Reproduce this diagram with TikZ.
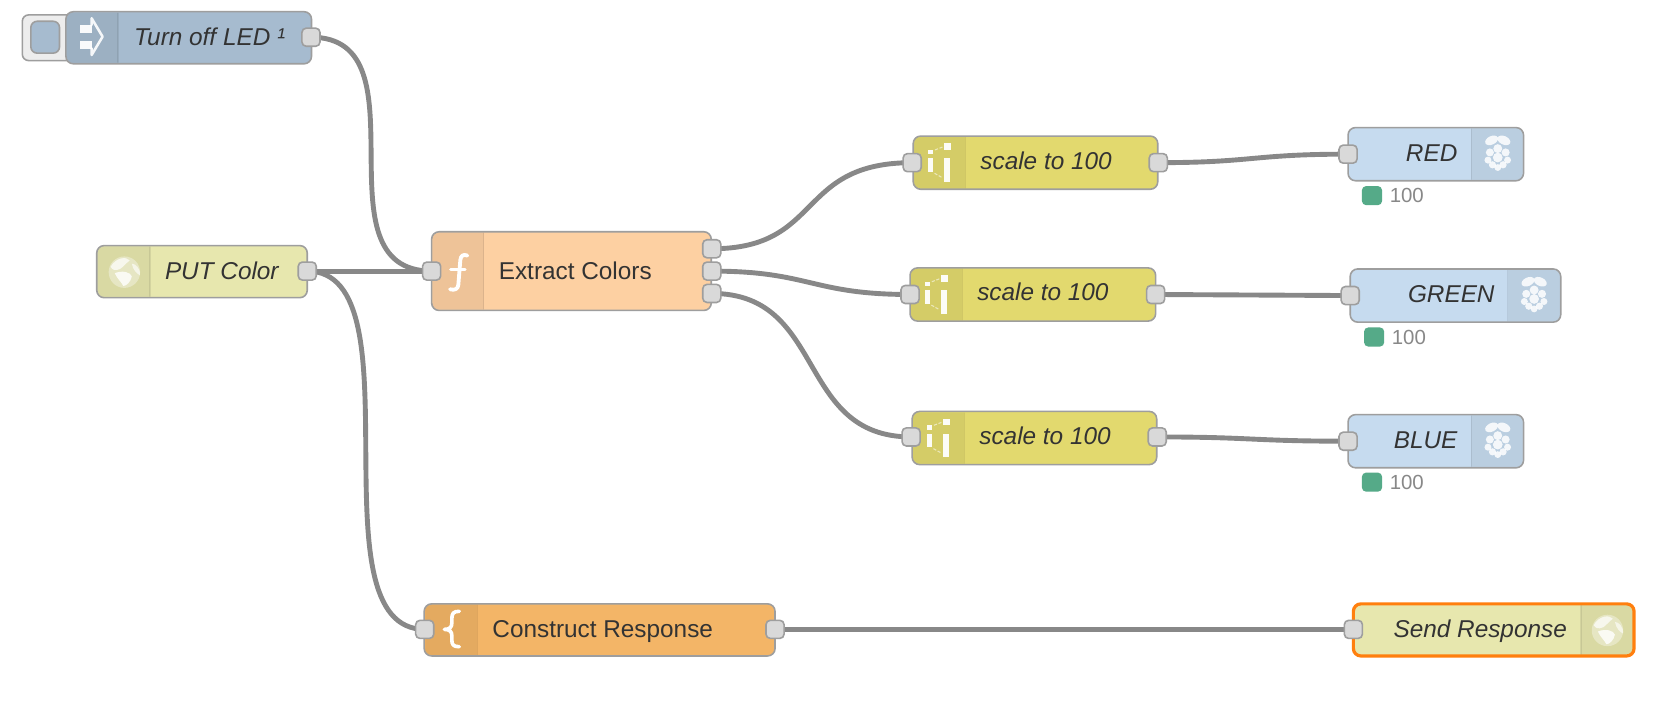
\documentclass[tikz,border=0pt]{standalone}
\usepackage{fontspec}
\setmainfont{Liberation Sans}
\usetikzlibrary{backgrounds}
\definecolor{cinject}{HTML}{A6BBCF}
\definecolor{chttp}{HTML}{E7E7AE}
\definecolor{cfunc}{HTML}{FDD0A2}
\definecolor{crange}{HTML}{E2D96E}
\definecolor{crpi}{HTML}{C6DBEF}
\definecolor{ctempl}{HTML}{F3B567}
\definecolor{cedge}{HTML}{9E9E9E}
\definecolor{cport}{HTML}{D9D9D9}
\definecolor{cwire}{HTML}{888888}
\definecolor{ctext}{HTML}{333333}
\definecolor{cstat}{HTML}{55AA88}
\definecolor{cselect}{HTML}{FF7F0E}
\tikzset{
  flowbody/.style={draw=cedge,line width=1.5pt,rounded corners=7pt,inner sep=0pt,outer sep=0pt},
  flowport/.style={draw=cedge,fill=cport,line width=1.5pt,rounded corners=4pt,minimum width=17pt,minimum height=17pt,inner sep=0pt},
  flowwire/.style={draw=cwire,line width=4.6pt},
  lblit/.style={font=\fontsize{22.9}{26}\selectfont\itshape,text=ctext,inner sep=0pt,text height=16.5pt,text depth=5pt,yshift=-2pt},
  lblrm/.style={font=\fontsize{22.9}{26}\selectfont,text=ctext,inner sep=0pt,text height=16.5pt,text depth=5pt,yshift=-2pt},
  statbox/.style={fill=cstat,rounded corners=4pt,minimum width=19pt,minimum height=18pt,inner sep=0pt},
  stattext/.style={font=\fontsize{19.2}{22}\selectfont,text=cwire,inner sep=0pt,anchor=west},
  iconline/.style={draw=white,line cap=round,line join=round},
}
% name, x0, y0, x1, y1, fill, shaded x0, shaded x1
\newcommand{\flowbox}[8]{%
  \pgfmathsetmacro{\bw}{#4-#2}\pgfmathsetmacro{\bh}{#5-#3}%
  \pgfmathsetmacro{\bcx}{(#2+#4)/2}\pgfmathsetmacro{\bcy}{(#3+#5)/2}%
  \node[flowbody,fill=#6,minimum width=\bw pt,minimum height=\bh pt] (#1) at (\bcx,\bcy) {};
  \begin{scope}
    \clip[rounded corners=6pt] (#2+1,#3+1) rectangle (#4-1,#5-1);
    \fill[black,opacity=.06] (#7,#3) rectangle (#8,#5);
    \ifdim #7pt=#2pt
      \draw[black,opacity=.08,line width=1.2pt] (#8,#3) -- (#8,#5);
    \else
      \draw[black,opacity=.08,line width=1.2pt] (#7,#3) -- (#7,#5);
    \fi
  \end{scope}%
}
\newcommand{\rangeicon}[2]{%
  \begin{scope}[white,opacity=.95]
  \fill (#1+13.6,#2-12) rectangle (#1+19,#2-8);
  \fill (#1+14,#2-4) rectangle (#1+19,#2+8.5);
  \fill (#1+29.3,#2-18.2) rectangle (#1+35.6,#2-12);
  \fill (#1+29.3,#2-4) rectangle (#1+34.6,#2+18);
  \end{scope}
  \draw[white,opacity=.55,line width=1pt,dash pattern=on 3pt off 1.5pt] (#1+20.5,#2-12) -- (#1+28.4,#2-15);
  \draw[white,opacity=.55,line width=1pt,dash pattern=on 3pt off 1.5pt] (#1+20,#2+10) -- (#1+26.8,#2+13.8);
}
\newcommand{\rpiicon}[2]{%
  \begin{scope}[white,opacity=.85]
    \fill[rotate around={25:(#1-5.8,#2-13)}] (#1-5.8,#2-13) ellipse (6.4pt and 4pt);
    \fill[rotate around={-25:(#1+5.8,#2-13)}] (#1+5.8,#2-13) ellipse (6.4pt and 4pt);
    \fill (#1,#2-5.2) circle (4.2pt);
    \fill (#1-7.4,#2-1.6) circle (3.8pt);
    \fill (#1+7.4,#2-1.6) circle (3.8pt);
    \fill (#1,#2+3.2) circle (4.6pt);
    \fill (#1-9.2,#2+5.6) circle (3.3pt);
    \fill (#1+9.2,#2+5.6) circle (3.3pt);
    \fill (#1-5,#2+10) circle (3.4pt);
    \fill (#1+5,#2+10) circle (3.4pt);
    \fill (#1,#2+12.6) circle (3.2pt);
  \end{scope}%
}
\newcommand{\globeicon}[2]{%
  \fill[white,opacity=.35] (#1,#2) circle (14.8pt);
  \begin{scope}
    \clip (#1,#2) circle (14.8pt);
    \fill[white,opacity=.7] (#1-13,#2-5) .. controls (#1-8,#2-14) and (#1+2,#2-15) .. (#1+5,#2-11) .. controls (#1+1,#2-8) and (#1-1,#2-5) .. (#1-4,#2-3) .. controls (#1-9,#2-1) and (#1-11,#2-2) .. cycle;
    \fill[white,opacity=.8] (#1-9,#2+1) .. controls (#1-2,#2-2) and (#1+6,#2) .. (#1+7,#2+4) .. controls (#1+6,#2+9) and (#1+2,#2+13) .. (#1-1,#2+13) .. controls (#1-3,#2+9) and (#1-7,#2+6) .. cycle;
    \fill[white,opacity=.6] (#1+7,#2-8) .. controls (#1+11,#2-8) and (#1+15,#2-3) .. (#1+15,#2+3) .. controls (#1+12,#2+2) and (#1+8,#2-2) .. cycle;
  \end{scope}%
}
\begin{document}
\begin{tikzpicture}[x=1pt,y=-1pt]
\useasboundingbox (0,0) rectangle (1568,676.3);
\begin{scope}[on background layer]
  \fill[white] (0,0) rectangle (1568,676.3);
\end{scope}
% inject button
\draw[draw=cedge,fill=black!7,line width=1.5pt,rounded corners=6pt] (21,14) rectangle (80,57);
\draw[cedge,line width=1.5pt,fill=cinject,rounded corners=6pt] (29,20) rectangle (56,50);
% nodes
\flowbox{inject}{62}{11}{293}{60}{cinject}{62}{111}
\flowbox{putcolor}{91}{231}{289}{280}{chttp}{91}{141}
\flowbox{extract}{406}{218}{669}{292}{cfunc}{406}{455}
\flowbox{scalea}{859}{128}{1089}{178}{crange}{859}{908}
\flowbox{scaleb}{856}{252}{1087}{302}{crange}{856}{905}
\flowbox{scalec}{858}{387}{1088}{437}{crange}{858}{907}
\flowbox{red}{1268}{120}{1433}{170}{crpi}{1384}{1433}
\flowbox{green}{1270}{253}{1468}{303}{crpi}{1418}{1468}
\flowbox{blue}{1268}{390}{1433}{440}{crpi}{1384}{1433}
\flowbox{construct}{399}{568}{729}{617}{ctempl}{399}{449}
% Send Response (selected)
\node[draw=cselect,line width=3pt,rounded corners=7pt,fill=chttp,minimum width=264pt,minimum height=49pt,inner sep=0pt] (send) at (1405,592.5) {};
\begin{scope}
  \clip[rounded corners=6pt] (1274.5,569.5) rectangle (1535.5,615.5);
  \fill[black,opacity=.06] (1487,568) rectangle (1537,617);
  \draw[black,opacity=.08,line width=1.2pt] (1487,568) -- (1487,617);
\end{scope}
% icons
\fill[white,opacity=.95] (75.5,23.5) rectangle (87,31);
\fill[white,opacity=.95] (75.5,38.2) rectangle (87,45.7);
\draw[iconline,line width=2.4pt,opacity=.9] (86.2,23.5) -- (86.2,17.2) -- (96.5,34.5) -- (86.2,51.7) -- (86.2,45.5);
\globeicon{117}{256}
\globeicon{1512}{593}
\draw[iconline,line width=3.6pt] (439.6,240.4) .. controls (435.5,238.8) and (433.6,240.5) .. (433,244.5) -- (431.1,268) .. controls (430.8,271.5) and (428,273.5) .. (423.3,272.1);
\draw[iconline,line width=3.2pt] (424,253.3) -- (437.4,253.3);
\draw[iconline,line width=3.4pt] (432,575) .. controls (426.5,575) and (425,577) .. (425,582) -- (425,586) .. controls (425,590) and (423,592) .. (418,592) .. controls (423,592) and (425,594) .. (425,598) -- (425,602) .. controls (425,606.5) and (426.5,608.3) .. (432,608.3);
\rangeicon{859}{153}
\rangeicon{856}{277}
\rangeicon{858}{412}
\rpiicon{1408.8}{145}
\rpiicon{1443}{278}
\rpiicon{1408.8}{415}
% labels
\node[lblit,anchor=west] (tinject) at (126,35) {Turn off LED ¹};
\node[lblit,anchor=west] (tput) at (155,255) {PUT Color};
\node[lblrm,anchor=west] (textract) at (469,255) {Extract Colors};
\node[lblit,anchor=west] (tscalea) at (922,152) {scale to 100};
\node[lblit,anchor=west] (tscaleb) at (919,275) {scale to 100};
\node[lblit,anchor=west] (tscalec) at (921,410) {scale to 100};
\node[lblit,anchor=east] (tred) at (1371,144) {RED};
\node[lblit,anchor=east] (tgreen) at (1406,277) {GREEN};
\node[lblit,anchor=east] (tblue) at (1371,414) {BLUE};
\node[lblrm,anchor=west] (tconstruct) at (463,592) {Construct Response};
\node[lblit,anchor=east] (tsend) at (1474,592) {Send Response};
% status
\node[statbox] (sa) at (1290.5,184) {};
\node[stattext] (sat) at (1307,184) {100};
\node[statbox] (sb) at (1292.5,317) {};
\node[stattext] (sbt) at (1309,317) {100};
\node[statbox] (sc) at (1290.5,453.5) {};
\node[stattext] (sct) at (1307,453.5) {100};
% ports
\node[flowport] (pinject) at (292.5,35) {};
\node[flowport] (pput) at (289,255) {};
\node[flowport] (inextract) at (406,255) {};
\node[flowport] (oea) at (669.5,234) {};
\node[flowport] (oeb) at (669.5,255) {};
\node[flowport] (oec) at (669.5,276) {};
\node[flowport] (insa) at (858,153) {};
\node[flowport] (osa) at (1089.5,153) {};
\node[flowport] (insb) at (856,277) {};
\node[flowport] (osb) at (1087,277) {};
\node[flowport] (insc) at (857,411) {};
\node[flowport] (osc) at (1088.5,411) {};
\node[flowport] (inred) at (1268,145) {};
\node[flowport] (ingreen) at (1270,278) {};
\node[flowport] (inblue) at (1268,415) {};
\node[flowport] (incon) at (399.5,592) {};
\node[flowport] (ocon) at (729,592) {};
\node[flowport] (insend) at (1273,592) {};
% wires
\begin{scope}[on background layer]
  \draw[flowwire] (pinject.center) .. controls (404,35) and (294,255) .. (inextract.center);
  \draw[flowwire] (pput.center) -- (inextract.center);
  \draw[flowwire] (pput.center) .. controls (397,255) and (291,592) .. (incon.center);
  \draw[flowwire] (oea.center) .. controls (775,234) and (748,153) .. (insa.center);
  \draw[flowwire] (oeb.center) .. controls (762,255) and (763,277) .. (insb.center);
  \draw[flowwire] (oec.center) .. controls (778,276) and (748,411) .. (insc.center);
  \draw[flowwire] (osa.center) .. controls (1179,153) and (1178,145) .. (inred.center);
  \draw[flowwire] (osb.center) .. controls (1179,277) and (1178,278) .. (ingreen.center);
  \draw[flowwire] (osc.center) .. controls (1178,411) and (1178,415) .. (inblue.center);
  \draw[flowwire] (ocon.center) -- (insend.center);
\end{scope}
\end{tikzpicture}
\end{document}
